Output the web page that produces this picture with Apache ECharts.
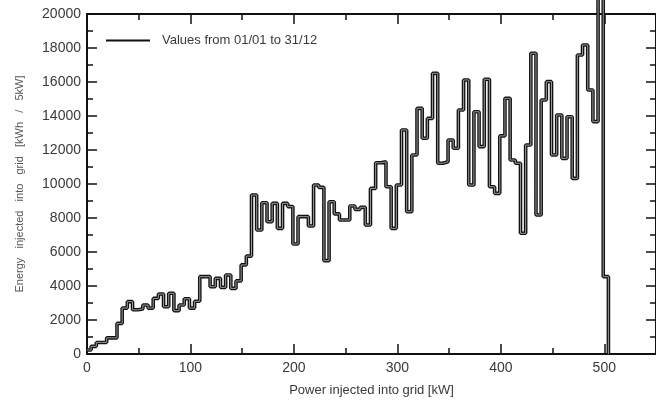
<!DOCTYPE html>
<html>
<head>
<meta charset="utf-8">
<script src="https://cdn.jsdelivr.net/npm/echarts@6/dist/echarts.min.js"></script>
<style>
  html, body { margin: 0; padding: 0; background: #fff; }
  #chart { width: 656px; height: 403px; }
</style>
</head>
<body>
<div id="chart"></div>
<script>
// energy per 5 kW bin, bins centred on 0, 5, 10 ... 500 kW
var binWidth = 5;
var energy = [
    235, 450, 680, 680, 950, 950, 1800, 2700, 3080, 2600,
    2650, 2880, 2700, 3270, 3530, 2780, 3570, 2550, 2880, 3250,
    2700, 3100, 4550, 4550, 3960, 4450, 3920, 4650, 3860, 4300,
    5240, 5760, 9350, 7290, 8900, 7780, 8860, 7390, 8860, 8670,
    6470, 8080, 8080, 7530, 9940, 9800, 5490, 8960, 8240, 7880,
    7880, 8710, 8510, 8630, 7590, 9740, 11250, 11300, 9840, 7390,
    9940, 13180, 8370, 11710, 14450, 12690, 13860, 16510, 11220, 11310,
    12590, 12100, 14350, 16120, 9940, 14250, 12200, 16160, 9840, 9450,
    12830, 15040, 11410, 11220, 7100, 12290, 17690, 8180, 14940, 16020,
    11710, 14060, 11510, 13960, 10330, 17590, 18180, 15530, 13670, 24000,
    4550
];
var xTicks = [0, 100, 200, 300, 400, 500];
var yTicks = [0, 2000, 4000, 6000, 8000, 10000, 12000, 14000, 16000, 18000, 20000];
var legendName = 'Values from 01/01 to 31/12';

// step points at the left edge of each bin
var steps = [];
for (var i = 0; i < energy.length; i++) {
    var left = Math.max(0, i * binWidth - 1);
    steps.push([left, energy[i]]);
}
steps.push([(energy.length - 1) * binWidth + 4, 0]);

var labelColor = '#3a3a3a';
var font = 'Liberation Sans, Arial, sans-serif';
var frame = { color: '#111', width: 2 };
var tick = { color: '#111', width: 1.5 };

function frameAxis(extra) {
    var base = {
        type: 'value',
        axisLine: { onZero: false, lineStyle: frame },
        axisTick: { inside: true, length: 10, lineStyle: tick },
        minorTick: { show: true, splitNumber: 2, length: 6, lineStyle: tick },
        axisLabel: { show: false },
        splitLine: { show: false }
    };
    for (var k in extra) base[k] = extra[k];
    return base;
}

var dom = document.getElementById('chart');
var chart = echarts.init(dom);

var option = {
    animation: false,
    backgroundColor: '#fff',
    grid: {
        left: 87,
        top: 14,
        width: 572,
        height: 340
    },
    legend: {
        left: 106,
        top: 34,
        padding: 0,
        icon: 'rect',
        itemWidth: 44,
        itemHeight: 2,
        data: [legendName],
        textStyle: {
            color: labelColor,
            fontSize: 13,
            fontFamily: font,
            padding: [0, 0, 0, 7]
        }
    },
    xAxis: [
        frameAxis({
            position: 'bottom', min: 0, max: 550, interval: 100,
            name: 'Power injected into grid [kW]',
            nameLocation: 'middle',
            nameGap: 30,
            nameTextStyle: { color: labelColor, fontSize: 13, fontFamily: font },
            axisLabel: {
                color: labelColor, fontSize: 14, fontFamily: font, margin: 7,
                customValues: xTicks,
                formatter: function (v) { return String(v); }
            }
        }),
        frameAxis({ position: 'top', min: 0, max: 550, interval: 100 })
    ],
    yAxis: [
        frameAxis({
            position: 'left', min: 0, max: 20000, interval: 2000,
            name: 'Energy   injected   into   grid   [kWh   /   5kW]',
            nameLocation: 'middle',
            nameRotate: 90,
            nameGap: 62,
            nameTextStyle: { color: '#555', fontSize: 11, fontFamily: font },
            axisLabel: {
                color: labelColor, fontSize: 14, fontFamily: font, margin: 6,
                customValues: yTicks,
                formatter: function (v) { return String(v); }
            }
        }),
        frameAxis({ position: 'right', min: 0, max: 20000, interval: 2000 })
    ],
    series: [{
        name: legendName,
        type: 'line',
        step: 'end',
        showSymbol: false,
        symbol: 'none',
        clip: false,
        color: '#111',
        lineStyle: { color: '#111', width: 3.6 },
        data: steps,
        z: 3
    }, {
        name: 'inner',
        type: 'line',
        step: 'end',
        showSymbol: false,
        symbol: 'none',
        clip: false,
        lineStyle: { color: '#9a9a9a', width: 1 },
        data: steps,
        z: 4
    }]
};

chart.setOption(option);
</script>
</body>
</html>
